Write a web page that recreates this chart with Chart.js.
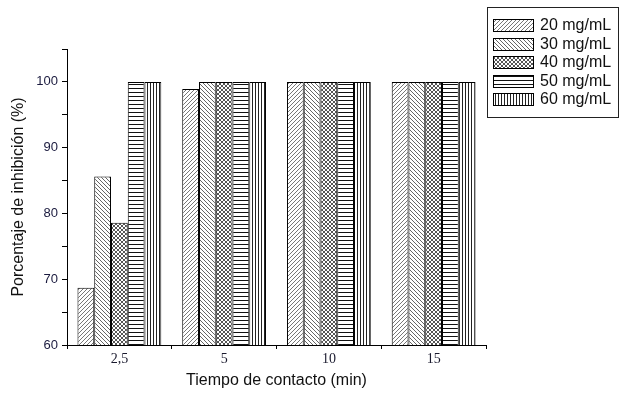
<!DOCTYPE html>
<html>
<head>
<meta charset="utf-8">
<script src="https://cdn.jsdelivr.net/npm/chart.js@4.4.0/dist/chart.umd.min.js"></script>
<style>
  html, body { margin: 0; padding: 0; background: #fff; }
  #c { display: block; }
</style>
</head>
<body>
<canvas id="c" width="628" height="393"></canvas>
<script>
// data
const categories = ['2,5', '5', '10', '15'];
const seriesNames = ['20 mg/mL', '30 mg/mL', '40 mg/mL', '50 mg/mL', '60 mg/mL'];
const s20 = [68.7, 98.9, 100, 100];
const s30 = [85.6, 100, 100, 100];
const s40 = [78.6, 100, 100, 100];
const s50 = [100, 100, 100, 100];
const s60 = [100, 100, 100, 100];
const yTicks = [60, 70, 80, 90, 100];

// hatch fills
function hatch(kind) {
    const c = document.createElement('canvas');
    const s = kind == 'h' ? 4 : (kind == 'v' ? 3 : 4);
    c.width = s; c.height = s;
    const g = c.getContext('2d');
    g.fillStyle = '#fff';
    g.fillRect(0, 0, s, s);
    g.lineWidth = 1;
    if (kind == 'fwd' || kind == 'x') {
        g.strokeStyle = kind == 'x' ? '#555' : '#777';
        g.beginPath();
        g.moveTo(0, s); g.lineTo(s, 0);
        g.moveTo(-1, 1); g.lineTo(1, -1);
        g.moveTo(s - 1, s + 1); g.lineTo(s + 1, s - 1);
        g.stroke();
    }
    if (kind == 'back' || kind == 'x') {
        g.strokeStyle = kind == 'x' ? '#555' : '#666';
        g.beginPath();
        g.moveTo(0, 0); g.lineTo(s, s);
        g.moveTo(-1, s - 1); g.lineTo(1, s + 1);
        g.moveTo(s - 1, -1); g.lineTo(s + 1, 1);
        g.stroke();
    }
    if (kind == 'h') {
        g.fillStyle = '#111';
        g.fillRect(0, 0, s, 1);
    }
    if (kind == 'v') {
        g.fillStyle = '#222';
        g.fillRect(0, 0, 1, s);
    }
    return g.createPattern(c, 'repeat');
}

const fills = [hatch('fwd'), hatch('back'), hatch('x'), hatch('h'), hatch('v')];
const values = [s20, s30, s40, s50, s60];

//Legend box drawn next to the plot, top right
const boxLegend = {
    id: 'boxLegend',
    afterDraw(chart) {
        const ctx = chart.ctx, a = chart.chartArea;
        const x0 = a.right + 1, y0 = 7;
        ctx.save();
        ctx.strokeStyle = '#222';
        ctx.lineWidth = 1;
        ctx.strokeRect(x0 + 0.5, y0 + 0.5, 131, 110);
        ctx.font = '16px "Liberation Sans", Arial, sans-serif';
        ctx.textBaseline = 'middle';
        chart.data.datasets.forEach((d, i) => {
            const cy = y0 + 18 + i * 18.5;
            ctx.fillStyle = d.backgroundColor;
            ctx.fillRect(x0 + 6, Math.round(cy - 6), 40, 12);
            ctx.strokeStyle = '#000';
            ctx.strokeRect(x0 + 6.5, Math.round(cy - 6) + 0.5, 40, 12);
            ctx.fillStyle = '#111';
            ctx.fillText(d.label, x0 + 53, cy + 1);
        });
        ctx.restore();
    }
};

new Chart(document.getElementById('c'), {
    type: 'bar',
    data: {
        labels: categories,
        datasets: seriesNames.map((n, i) => ({
            label: n,
            data: values[i],
            backgroundColor: fills[i],
            borderColor: '#000',
            borderWidth: 1,
            borderSkipped: false,
            categoryPercentage: 0.8,
            barPercentage: 1
        }))
    },
    options: {
        responsive: false,
        animation: false,
        devicePixelRatio: 1,
        layout: { padding: { left: 0, top: 49, right: 142, bottom: 0 } },
        plugins: {
            legend: { display: false },
            tooltip: { enabled: false }
        },
        scales: {
            x: {
                afterFit: (s) => { s.height = 48; },
                grid: { offset: true, drawOnChartArea: false, tickLength: 4, color: '#000' },
                border: { color: '#000', width: 1 },
                ticks: {
                    color: '#1a1a2e',
                    padding: 2,
                    font: { family: '"Liberation Serif", "Times New Roman", serif', size: 14 }
                },
                title: {
                    display: true,
                    text: 'Tiempo de contacto (min)',
                    color: '#111',
                    padding: { top: 0, bottom: 3 },
                    font: { family: '"Liberation Sans", Arial, sans-serif', size: 16 }
                }
            },
            y: {
                min: 60,
                max: 105,
                afterFit: (s) => { s.width = 67; },
                grid: { drawOnChartArea: false, tickLength: 5, color: '#000' },
                border: { color: '#000', width: 1 },
                ticks: {
                    stepSize: 5,
                    color: '#1a1a3e',
                    padding: 4,
                    font: { family: '"Liberation Sans", Arial, sans-serif', size: 13 },
                    callback: (v) => yTicks.includes(v) ? v : ''
                },
                title: {
                    display: true,
                    text: 'Porcentaje de inhibición (%)',
                    color: '#111',
                    padding: { top: 9, bottom: 0 },
                    font: { family: '"Liberation Sans", Arial, sans-serif', size: 16 }
                }
            }
        }
    },
    plugins: [boxLegend]
});
</script>
</body>
</html>
